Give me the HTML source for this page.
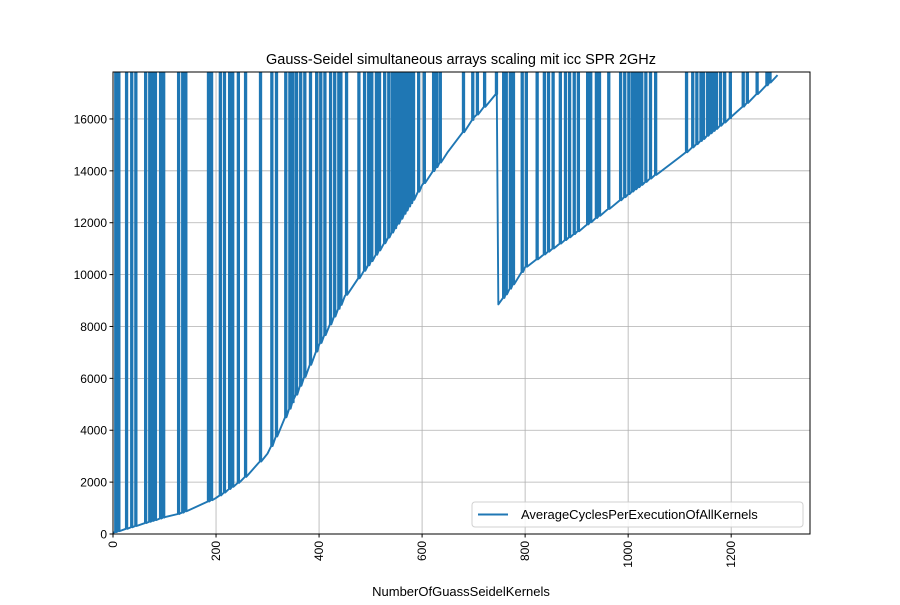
<!DOCTYPE html>
<html><head><meta charset="utf-8"><style>
body{margin:0;background:#fff;}
svg text{font-family:"Liberation Sans","DejaVu Sans",sans-serif;}
</style></head><body>
<svg id="c" width="900" height="600" xmlns="http://www.w3.org/2000/svg">
<rect width="900" height="600" fill="#fff"/>
<text x="461" y="64" font-size="14.5" text-anchor="middle">Gauss-Seidel simultaneous arrays scaling mit icc SPR 2GHz</text>
<g id="grid"></g>
<defs><clipPath id="clip"><rect x="113" y="72" width="697" height="462"/></clipPath></defs>
<g id="series" clip-path="url(#clip)"></g>
<rect x="113" y="72" width="697" height="462" fill="none" stroke="#000" stroke-width="1"/>
<g id="ticks"></g>
<text x="461" y="596" font-size="13" text-anchor="middle">NumberOfGuassSeidelKernels</text>
<g>
<rect x="472" y="502" width="331" height="25" rx="3" fill="#fff" stroke="#ccc" opacity="0.9"/>
<line x1="478" y1="514.5" x2="508" y2="514.5" stroke="#1f77b4" stroke-width="2"/>
<text x="521" y="519" font-size="13">AverageCyclesPerExecutionOfAllKernels</text>
</g>
</svg>
<script>
const baseX=[0,100,130,200,250,300,350,400,450,500,550,600,650,700,745,748,800,900,1000,1100,1200,1290];
const baseY=[50,650,790,1390,2080,3100,5160,7290,9170,10490,11870,13450,14730,16040,17000,8850,10290,11640,13100,14530,16080,17690];
const spikeX=[4,10,25,35,43,62,70,76,81,91,97,126,134,140,184,190,207,215,225,231,242,256,285,307,316,334,342,348,355,363,371,382,394,402,410,421,429,437,441,452,476,487,495,501,510,516,526,534,541,547,553,559,565,569,574,578,582,592,603,621,627,634,679,697,706,720,743,757,762,770,776,793,801,822,836,844,853,867,877,885,894,902,920,926,937,943,961,984,992,1000,1007,1013,1019,1025,1033,1042,1052,1112,1124,1132,1140,1145,1153,1159,1165,1170,1178,1186,1197,1222,1230,1249,1268,1274];
const xTicks=[0,200,400,600,800,1000,1200];
const yTicks=[0,2000,4000,6000,8000,10000,12000,14000,16000];
const spikeTop=19000;
const X0=113,X1=810,Y0=534,Y1=72,XMAX=1353,YMAX=17810;
const sx=v=>X0+v/XMAX*(X1-X0), sy=v=>Y0-v/YMAX*(Y0-Y1);
const NS="http://www.w3.org/2000/svg";
function mk(t,a,p){const e=document.createElementNS(NS,t);for(const k in a)e.setAttribute(k,a[k]);p.appendChild(e);return e;}
const grid=document.getElementById('grid'),ticks=document.getElementById('ticks');
xTicks.forEach(v=>{const x=sx(v);
 const g=mk('line',{x1:x,x2:x,y1:Y1,y2:Y0,stroke:'#b0b0b0','stroke-width':0.8},grid);
 
 
 mk('line',{x1:x,x2:x,y1:Y0,y2:Y0+3.5,stroke:'#000'},ticks);
 const t=mk('text',{x:0,y:0,'font-size':12,'text-anchor':'end',transform:`translate(${x+4},${Y0+7}) rotate(-90)`},ticks);
 t.textContent=v;
 
 });
yTicks.forEach(v=>{const y=sy(v);
 const g=mk('line',{x1:X0,x2:X1,y1:y,y2:y,stroke:'#b0b0b0','stroke-width':0.8},grid);
 
 
 mk('line',{x1:X0-3.5,x2:X0,y1:y,y2:y,stroke:'#000'},ticks);
 const t=mk('text',{x:X0-6,y:y+4.5,'font-size':12,'text-anchor':'end'},ticks);
 t.textContent=v;
 
 });
function base(x){for(let i=0;i<baseX.length-1;i++){if(x<=baseX[i+1]){const f=(x-baseX[i])/(baseX[i+1]-baseX[i]);return baseY[i]+f*(baseY[i+1]-baseY[i]);}}return baseY[baseY.length-1];}
const pts=[];baseX.forEach((x,i)=>pts.push([x,baseY[i],0]));spikeX.forEach(x=>pts.push([x,0,1]));
pts.sort((a,b)=>a[0]-b[0]||a[2]-b[2]);
let d='';
pts.forEach(p=>{if(p[2]){const b=base(p[0]);d+=`L${sx(p[0])},${sy(b)}L${sx(p[0])},${sy(spikeTop)}L${sx(p[0])+1.4},${sy(spikeTop)}L${sx(p[0])+1.4},${sy(b)}`;}else d+=(d?'L':'M')+`${sx(p[0])},${sy(p[1])}`;});
const path=mk('path',{d:d,fill:'none',stroke:'#1f77b4','stroke-width':1.9,'stroke-linejoin':'round'},document.getElementById('series'));


</script>
</body></html>
